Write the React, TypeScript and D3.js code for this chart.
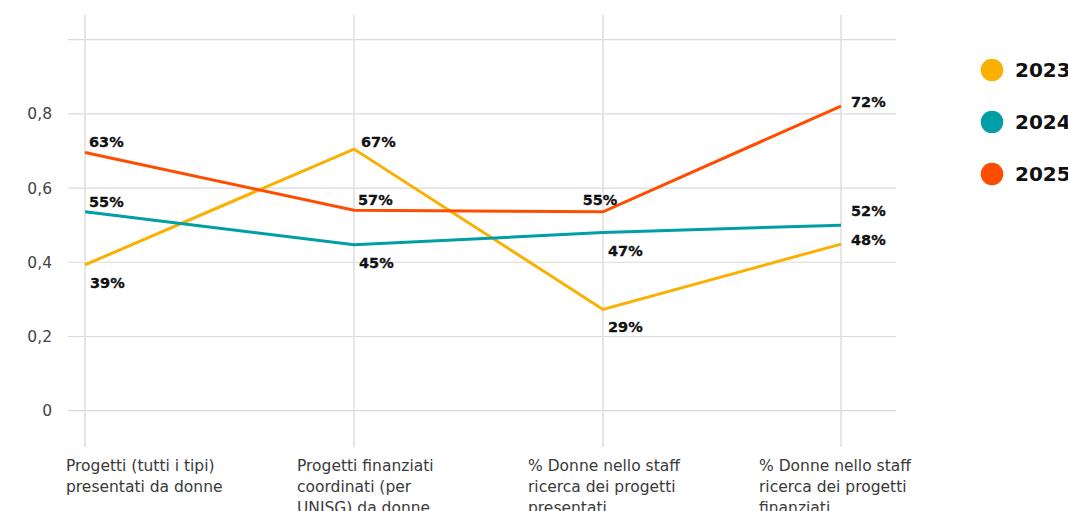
import React from "react";
import * as d3 from "d3";

const categories: string[][] = [
  ["Progetti (tutti i tipi)", "presentati da donne"],
  ["Progetti finanziati", "coordinati (per", "UNISG) da donne"],
  ["% Donne nello staff", "ricerca dei progetti", "presentati"],
  ["% Donne nello staff", "ricerca dei progetti", "finanziati"],
];
const seriesNames = ["2023", "2024", "2025"];
const values2023 = [0.393, 0.705, 0.273, 0.449];
const values2024 = [0.536, 0.447, 0.48, 0.5];
const values2025 = [0.696, 0.54, 0.536, 0.821];
const labels2023 = ["39%", "67%", "29%", "48%"];
const labels2024 = ["55%", "45%", "47%", "52%"];
const labels2025 = ["63%", "57%", "55%", "72%"];
const yTicks = [0, 0.2, 0.4, 0.6, 0.8, 1.0];

const colors = ["#FAB000", "#009EA5", "#FF4D00"];

// label placement per series/point (layout only)
type Place = "above" | "below" | "right" | "rightAbove" | "aboveMid" | "aboveFar";
const placements: Place[][] = [
  ["below", "aboveFar", "below", "right"],
  ["above", "below", "below", "rightAbove"],
  ["above", "above", "aboveMid", "right"],
];
const placeOffsets: Record<Place, { dx: number; dy: number; anchor: string }> = {
  above: { dx: 4, dy: -5, anchor: "start" },
  aboveFar: { dx: 7, dy: -2, anchor: "start" },
  below: { dx: 5, dy: 23, anchor: "start" },
  right: { dx: 10, dy: 1, anchor: "start" },
  rightAbove: { dx: 10, dy: -9, anchor: "start" },
  aboveMid: { dx: -3, dy: -7, anchor: "middle" },
};

export default function App() {
  const W = 1068;
  const H = 511;
  const series = [values2023, values2024, values2025];
  const seriesLabels = [labels2023, labels2024, labels2025];
  const idx = categories.map((_, i) => String(i));

  const x = d3.scaleOrdinal<string, number>().domain(idx).range([85, 354, 603, 841]);
  const xText = d3.scaleBand<string>().domain(idx).range([66, 990]).padding(0);
  const y = d3.scaleLinear().domain([0, 1]).range([410.7, 39.6]);
  const fmt = (v: number) => (v === 0 ? "0" : d3.format(".1f")(v).replace(".", ","));

  const line = d3
    .line<number>()
    .x((_, i) => x(String(i)))
    .y((d) => y(d));

  return (
    <svg
      width={W}
      height={H}
      style={{ position: "absolute", left: 0, top: 0, background: "#fff" }}
      fontFamily="'DejaVu Sans', sans-serif"
    >
      {/* horizontal grid */}
      {yTicks.map((t) => (
        <g key={t}>
          <line x1={68} x2={896} y1={y(t)} y2={y(t)} stroke="#dadada" strokeWidth={1.2} />
          {t < 1 && (
            <text x={52} y={y(t)} dy="0.36em" textAnchor="end" fontSize={15.5} fill="#444">
              {fmt(t)}
            </text>
          )}
        </g>
      ))}
      {/* vertical lines */}
      {idx.map((k) => (
        <line key={k} x1={x(k)} x2={x(k)} y1={15} y2={447} stroke="#dedede" strokeWidth={1.5} />
      ))}
      {/* category labels */}
      {categories.map((lines, i) => (
        <text key={i} x={xText(String(i))} y={471} fontSize={15.5} fill="#3a3a3a">
          {lines.map((l, j) => (
            <tspan key={j} x={xText(String(i))} dy={j === 0 ? 0 : 21}>
              {l}
            </tspan>
          ))}
        </text>
      ))}
      {/* lines */}
      {series.map((vals, s) => (
        <path key={s} d={line(vals) || ""} fill="none" stroke={colors[s]} strokeWidth={3} strokeLinejoin="miter" />
      ))}
      {/* data labels */}
      {series.map((vals, s) =>
        vals.map((v, i) => {
          const p = placeOffsets[placements[s][i]];
          return (
            <text
              key={`${s}-${i}`}
              x={x(String(i)) + p.dx}
              y={y(v) + p.dy}
              textAnchor={p.anchor}
              fontSize={14.5}
              fontWeight="bold"
              fill="#111"
              stroke="#111"
              strokeWidth={0.3}
            >
              {seriesLabels[s][i]}
            </text>
          );
        })
      )}
      {/* legend */}
      {seriesNames.map((n, s) => (
        <g key={n} transform={`translate(992, ${70 + s * 52})`}>
          <circle r={11.3} fill={colors[s]} />
          <text x={23} y={0} dy="0.37em" fontSize={20} fontWeight="bold" fill="#111">
            {n}
          </text>
        </g>
      ))}
    </svg>
  );
}
